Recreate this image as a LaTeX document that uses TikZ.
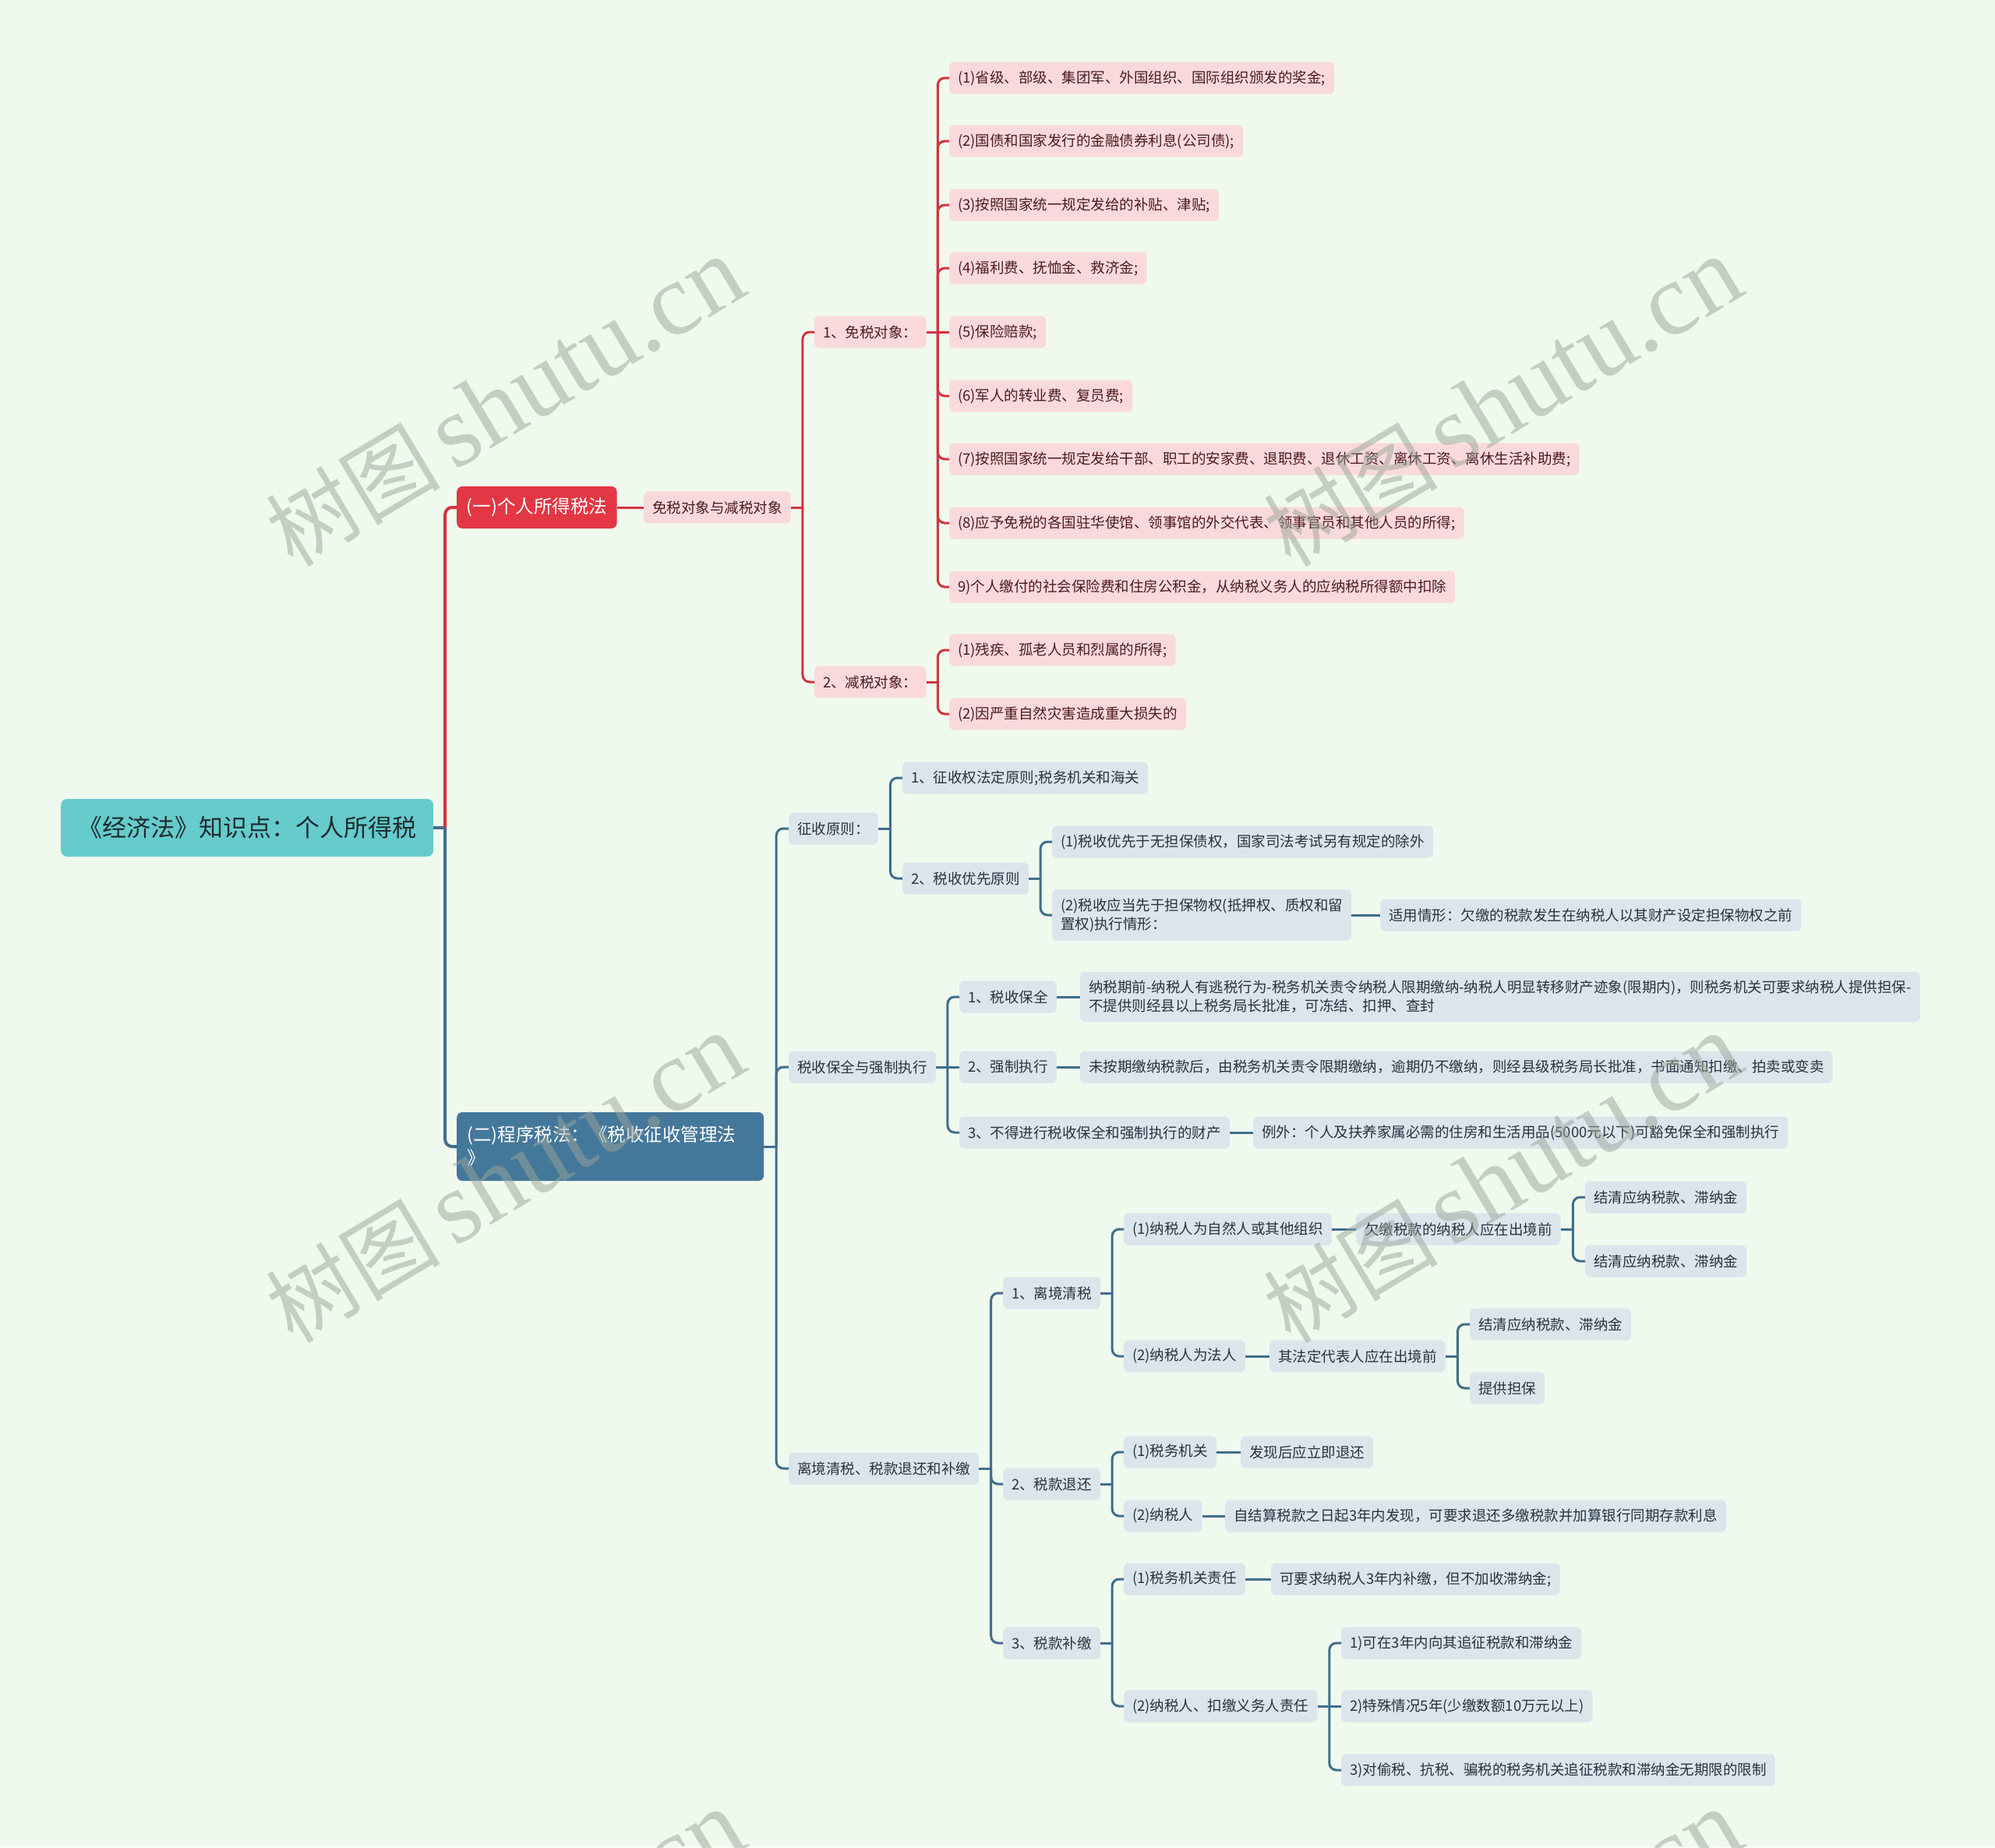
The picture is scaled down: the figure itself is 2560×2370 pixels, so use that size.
\documentclass[tikz,border=0pt]{standalone}
\usepackage{fontspec}
\setmainfont{Noto Sans CJK SC}
\newfontfamily\wmfont{Liberation Serif}
\usetikzlibrary{calc}
\definecolor{bg}{HTML}{F0F9EE}
\definecolor{rootfill}{HTML}{65CBCC}
\definecolor{roottext}{HTML}{1E2B2E}
\definecolor{redfill}{HTML}{E33745}
\definecolor{redline}{HTML}{D3343F}
\definecolor{pinkfill}{HTML}{FAD9DC}
\definecolor{pinktext}{HTML}{4D1B1F}
\definecolor{bluefill}{HTML}{44789B}
\definecolor{blueline}{HTML}{3F6E8C}
\definecolor{lbfill}{HTML}{DCE5EC}
\definecolor{lbtext}{HTML}{263440}
\definecolor{wmgray}{HTML}{9AA49A}
\newcommand\mmstub[3]{\draw[#3] (#1.east) -- ($(#1.east)!0.5!(#2.west |- #1.east)$) coordinate (#1t);}
\newcommand\mmkid[3]{\draw[#3,rounded corners=9pt] (#1t) |- (#2.west);}
\begin{document}
\begin{tikzpicture}[x=1pt,y=-1pt,
  box/.style={rounded corners=6pt, anchor=west, inner ysep=0pt, minimum height=41pt, inner xsep=11pt, font=\fontsize{18.5}{24}\selectfont},
  pk/.style={box, fill=pinkfill, text=pinktext},
  lb/.style={box, fill=lbfill, text=lbtext},
  rootbox/.style={rounded corners=8pt, anchor=west, fill=rootfill, text=roottext, minimum height=74pt, inner xsep=22pt, font=\fontsize{31}{36}\selectfont},
  redbox/.style={rounded corners=7pt, anchor=west, fill=redfill, text=white, minimum height=54pt, inner xsep=12.5pt, font=\fontsize{23.5}{29}\selectfont},
  bluebox/.style={rounded corners=7pt, anchor=west, fill=bluefill, text=white, minimum height=88pt, inner xsep=13pt, text width=368pt, align=left, font=\fontsize{23.5}{30}\selectfont},
  rl/.style={draw=redline, line width=3pt},
  bll/.style={draw=blueline, line width=3pt},
  rl4/.style={draw=redline, line width=4pt},
  bl4/.style={draw=blueline, line width=4pt},
  wm/.style={rotate=31, text=wmgray, text opacity=0.5, font=\fontsize{112}{120}\selectfont}
]
\fill[bg] (0,0) rectangle (2560,2370);
\useasboundingbox (0,0) rectangle (2560,2370);

% root and main branches
\node[rootbox] (R) at (78,1062) {《经济法》知识点：个人所得税};
\node[redbox] (A) at (586,651) {(一)个人所得税法};
\node[bluebox] (B) at (586,1471) {(二)程序税法：《税收征收管理法\\》};

% red subtree
\node[pk] (A1) at (826,651) {免税对象与减税对象};
\node[pk] (A11) at (1045,426) {1、免税对象：};
\node[pk] (A12) at (1045,875) {2、减税对象：};
\node[pk] (A111) at (1218,100) {(1)省级、部级、集团军、外国组织、国际组织颁发的奖金;};
\node[pk] (A112) at (1218,181) {(2)国债和国家发行的金融债券利息(公司债);};
\node[pk] (A113) at (1218,263) {(3)按照国家统一规定发给的补贴、津贴;};
\node[pk] (A114) at (1218,344) {(4)福利费、抚恤金、救济金;};
\node[pk] (A115) at (1218,426) {(5)保险赔款;};
\node[pk] (A116) at (1218,508) {(6)军人的转业费、复员费;};
\node[pk] (A117) at (1218,589) {(7)按照国家统一规定发给干部、职工的安家费、退职费、退休工资、离休工资、离休生活补助费;};
\node[pk] (A118) at (1218,671) {(8)应予免税的各国驻华使馆、领事馆的外交代表、领事官员和其他人员的所得;};
\node[pk] (A119) at (1218,753) {9)个人缴付的社会保险费和住房公积金，从纳税义务人的应纳税所得额中扣除};
\node[pk] (A121) at (1218,834) {(1)残疾、孤老人员和烈属的所得;};
\node[pk] (A122) at (1218,916) {(2)因严重自然灾害造成重大损失的};

% blue subtree
\node[lb] (B1) at (1012,1063) {征收原则：};
\node[lb] (B2) at (1012,1369) {税收保全与强制执行};
\node[lb] (B3) at (1012,1884) {离境清税、税款退还和补缴};

\node[lb] (B11) at (1158,998) {1、征收权法定原则;税务机关和海关};
\node[lb] (B12) at (1158,1127) {2、税收优先原则};
\node[lb] (B121) at (1350,1080) {(1)税收优先于无担保债权，国家司法考试另有规定的除外};
\node[lb, align=left, minimum height=66pt] (B122) at (1350,1174) {(2)税收应当先于担保物权(抵押权、质权和留\\置权)执行情形：};
\node[lb] (B1221) at (1771,1174) {适用情形：欠缴的税款发生在纳税人以其财产设定担保物权之前};

\node[lb] (B21) at (1231,1279) {1、税收保全};
\node[lb, align=left, minimum height=64pt] (B211) at (1386,1279) {纳税期前-纳税人有逃税行为-税务机关责令纳税人限期缴纳-纳税人明显转移财产迹象(限期内)，则税务机关可要求纳税人提供担保-\\不提供则经县以上税务局长批准，可冻结、扣押、查封};
\node[lb] (B22) at (1231,1369) {2、强制执行};
\node[lb] (B221) at (1386,1369) {未按期缴纳税款后，由税务机关责令限期缴纳，逾期仍不缴纳，则经县级税务局长批准，书面通知扣缴、拍卖或变卖};
\node[lb] (B23) at (1231,1453) {3、不得进行税收保全和强制执行的财产};
\node[lb] (B231) at (1608,1453) {例外：个人及扶养家属必需的住房和生活用品(5000元以下)可豁免保全和强制执行};

\node[lb] (B31) at (1287,1659) {1、离境清税};
\node[lb] (B311) at (1442,1577) {(1)纳税人为自然人或其他组织};
\node[lb] (B3111) at (1740,1577) {欠缴税款的纳税人应在出境前};
\node[lb] (B31111) at (2034,1536) {结清应纳税款、滞纳金};
\node[lb] (B31112) at (2034,1618) {结清应纳税款、滞纳金};
\node[lb] (B312) at (1442,1740) {(2)纳税人为法人};
\node[lb] (B3121) at (1629,1740) {其法定代表人应在出境前};
\node[lb] (B31211) at (1886,1699) {结清应纳税款、滞纳金};
\node[lb] (B31212) at (1886,1781) {提供担保};

\node[lb] (B32) at (1287,1904) {2、税款退还};
\node[lb] (B321) at (1442,1863) {(1)税务机关};
\node[lb] (B3211) at (1592,1863) {发现后应立即退还};
\node[lb] (B322) at (1442,1945) {(2)纳税人};
\node[lb] (B3221) at (1572,1945) {自结算税款之日起3年内发现，可要求退还多缴税款并加算银行同期存款利息};

\node[lb] (B33) at (1287,2108) {3、税款补缴};
\node[lb] (B331) at (1442,2026) {(1)税务机关责任};
\node[lb] (B3311) at (1631,2026) {可要求纳税人3年内补缴，但不加收滞纳金;};
\node[lb] (B332) at (1442,2189) {(2)纳税人、扣缴义务人责任};
\node[lb] (B3321) at (1721,2108) {1)可在3年内向其追征税款和滞纳金};
\node[lb] (B3322) at (1721,2189) {2)特殊情况5年(少缴数额10万元以上)};
\node[lb] (B3323) at (1721,2271) {3)对偷税、抗税、骗税的税务机关追征税款和滞纳金无期限的限制};

% connectors: root
\mmstub{R}{A}{bl4}
\mmkid{R}{A}{rl4}
\mmkid{R}{B}{bl4}

% red connectors
\draw[rl] (A.east) -- (A1.west);
\mmstub{A1}{A11}{rl}
\mmkid{A1}{A11}{rl}
\mmkid{A1}{A12}{rl}
\mmstub{A11}{A111}{rl}
\foreach \c in {A111,A112,A113,A114,A116,A117,A118,A119} {\mmkid{A11}{\c}{rl}}
\draw[rl] (A11t) -- (A115.west);
\mmstub{A12}{A121}{rl}
\mmkid{A12}{A121}{rl}
\mmkid{A12}{A122}{rl}

% blue connectors
\mmstub{B}{B1}{bll}
\foreach \c in {B1,B2,B3} {\mmkid{B}{\c}{bll}}
\mmstub{B1}{B11}{bll}
\foreach \c in {B11,B12} {\mmkid{B1}{\c}{bll}}
\mmstub{B12}{B121}{bll}
\foreach \c in {B121,B122} {\mmkid{B12}{\c}{bll}}
\draw[bll] (B122.east) -- (B1221.west);

\mmstub{B2}{B21}{bll}
\mmkid{B2}{B21}{bll}
\mmkid{B2}{B23}{bll}
\draw[bll] (B2t) -- (B22.west);
\draw[bll] (B21.east) -- (B211.west);
\draw[bll] (B22.east) -- (B221.west);
\draw[bll] (B23.east) -- (B231.west);

\mmstub{B3}{B31}{bll}
\foreach \c in {B31,B32,B33} {\mmkid{B3}{\c}{bll}}
\mmstub{B31}{B311}{bll}
\foreach \c in {B311,B312} {\mmkid{B31}{\c}{bll}}
\draw[bll] (B311.east) -- (B3111.west);
\mmstub{B3111}{B31111}{bll}
\foreach \c in {B31111,B31112} {\mmkid{B3111}{\c}{bll}}
\draw[bll] (B312.east) -- (B3121.west);
\mmstub{B3121}{B31211}{bll}
\foreach \c in {B31211,B31212} {\mmkid{B3121}{\c}{bll}}

\mmstub{B32}{B321}{bll}
\foreach \c in {B321,B322} {\mmkid{B32}{\c}{bll}}
\draw[bll] (B321.east) -- (B3211.west);
\draw[bll] (B322.east) -- (B3221.west);

\mmstub{B33}{B331}{bll}
\foreach \c in {B331,B332} {\mmkid{B33}{\c}{bll}}
\draw[bll] (B331.east) -- (B3311.west);
\mmstub{B332}{B3321}{bll}
\mmkid{B332}{B3321}{bll}
\mmkid{B332}{B3323}{bll}
\draw[bll] (B332t) -- (B3322.west);

% watermarks
\begin{scope}
\clip (0,0) rectangle (2560,2370);
\foreach \x in {648,1928} {\foreach \y in {516,1512,2508} {\node[wm] at (\x,\y) {树图\hspace{18pt}{\wmfont\fontsize{132}{132}\selectfont shutu.cn}};}}
\end{scope}
\end{tikzpicture}
\end{document}
